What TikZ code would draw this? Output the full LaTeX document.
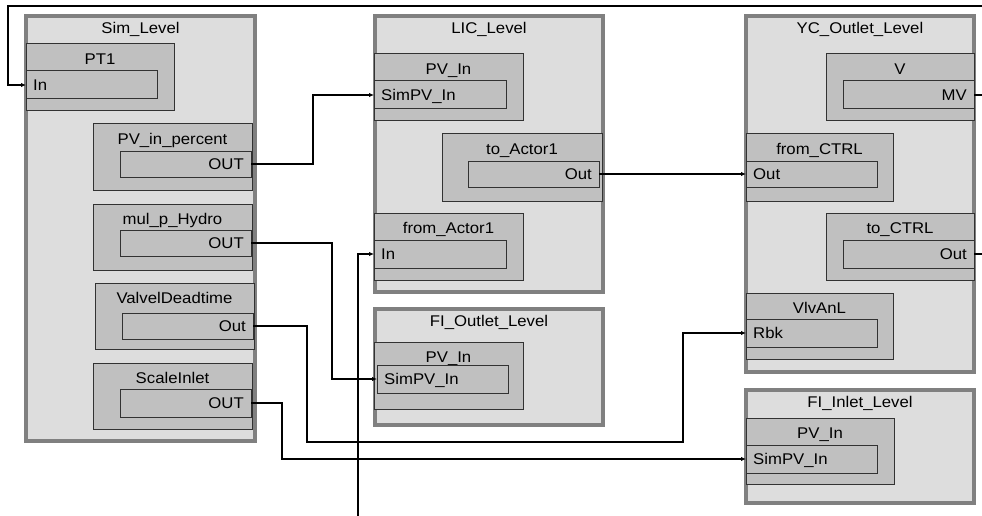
\documentclass[tikz,border=0pt]{standalone}
\usepackage{fontspec}
\setmainfont{Liberation Sans}[FakeStretch=1.08]
\usetikzlibrary{fit,calc,arrows.meta}
\definecolor{contfill}{RGB}{221,221,221}
\definecolor{contline}{RGB}{128,128,128}
\definecolor{blkfill}{RGB}{192,192,192}
\definecolor{blkline}{RGB}{50,50,50}
\tikzset{
  cont/.style={draw=contline, line width=4pt, fill=contfill, inner sep=0pt},
  blk/.style={draw=blkline, line width=1pt, fill=blkfill, inner sep=0pt},
  portbox/.style={draw=blkline, line width=1pt, fill=blkfill, inner sep=0pt, outer sep=0pt},
  ttl/.style={anchor=base, inner sep=0pt, font=\fontsize{15.5}{15.5}\selectfont},
  plab/.style={inner sep=0pt, text height=11pt, text depth=0pt, font=\fontsize{15.5}{15.5}\selectfont},
  wire/.style={line width=2pt, black},
  arr/.style={wire, -{Latex[length=5pt,width=4.5pt]}}
}
\newcommand\mkcont[6]{%
  \node[cont, fit={(#2,#3) (#4,#5)}] (#1) {};
  \node[ttl] (#1-t) at ($(#1.north)+(0,19.5)$) {#6};}
\newcommand\mkblock[6]{%
  \node[blk, fit={(#2,#3) (#4,#5)}] (#1) {};
  \node[ttl] (#1-t) at ($(#1.north)+(0,21)$) {#6};}
\newcommand\mkportL[6]{%
  \node[portbox, fit={(#2,#3) (#4,#5)}] (#1) {};
  \node[plab, anchor=west] (#1-t) at ($(#1.west)+(7,0)$) {#6};}
\newcommand\mkportR[6]{%
  \node[portbox, fit={(#2,#3) (#4,#5)}] (#1) {};
  \node[plab, anchor=east] (#1-t) at ($(#1.east)+(-7,0)$) {#6};}
\begin{document}
\begin{tikzpicture}[x=1pt,y=-1pt]
\useasboundingbox (0,0) rectangle (982,516);
\fill[white] (0,0) rectangle (982,516);
% containers
\mkcont{sim}{26}{16}{255}{441}{Sim\_Level}
\mkcont{lic}{375}{16}{603}{292}{LIC\_Level}
\mkcont{fio}{375}{309}{603}{425}{FI\_Outlet\_Level}
\mkcont{yc}{746}{16}{974}{372}{YC\_Outlet\_Level}
\mkcont{fii}{746}{390}{974}{503}{FI\_Inlet\_Level}
% Sim_Level blocks
\mkblock{pt}{26}{44}{174}{111}{PT1}
\mkportL{ptin}{26}{71}{157}{99}{In}
\mkblock{pvp}{93}{124}{252}{190}{PV\_in\_percent}
\mkportR{pvpo}{120}{151}{251}{177}{OUT}
\mkblock{mul}{93}{204}{252}{270}{mul\_p\_Hydro}
\mkportR{mulo}{120}{230}{251}{256}{OUT}
\mkblock{vdt}{95}{283}{254}{349}{ValvelDeadtime}
\mkportR{vdto}{122}{313}{253}{339}{Out}
\mkblock{scl}{93}{363}{252}{429}{ScaleInlet}
\mkportR{sclo}{120}{389}{251}{417}{OUT}
% LIC_Level blocks
\mkblock{licpv}{374}{54}{523}{121}{PV\_In}
\mkportL{licpvi}{374}{81}{506}{109}{SimPV\_In}
\mkblock{toa}{442}{134}{602}{201}{to\_Actor1}
\mkportR{toao}{468}{161}{599}{187}{Out}
\mkblock{froma}{374}{213}{523}{280}{from\_Actor1}
\mkportL{fromai}{374}{240}{506}{268}{In}
% FI_Outlet_Level
\mkblock{fiopv}{374}{342}{523}{409}{PV\_In}
\mkportL{fiopvi}{377}{365}{508}{393}{SimPV\_In}
% YC_Outlet_Level
\mkblock{vb}{826}{54}{974}{121}{V}
\mkportR{vbo}{843}{81}{974}{109}{MV}
\mkblock{fromc}{746}{134}{893}{201}{from\_CTRL}
\mkportL{fromci}{746}{161}{877}{187}{Out}
\mkblock{toc}{826}{213}{974}{280}{to\_CTRL}
\mkportR{toco}{843}{240}{974}{268}{Out}
\mkblock{vlv}{746}{293}{893}{359}{VlvAnL}
\mkportL{vlvi}{746}{319}{877}{347}{Rbk}
% FI_Inlet_Level
\mkblock{fiipv}{746}{418}{894}{484}{PV\_In}
\mkportL{fiipvi}{746}{445}{877}{473}{SimPV\_In}
% free ends
\coordinate (topR) at (982,6);
\coordinate (botA) at (358,516);
\coordinate (edgeR) at (982,0);
% connectors
\draw[arr] (topR) -| ($(ptin.west)+(-18,0)$) -- (ptin.west);
\draw[arr] (pvpo.east) -- ++(62,0) |- (licpvi.west);
\draw[arr] (mulo.east) -- ++(81,0) |- (fiopvi.west);
\draw[arr] (vdto.east) -| (307,442) -| ($(vlvi.west)+(-63,0)$) -- (vlvi.west);
\draw[arr] (sclo.east) -- ++(31,0) |- (fiipvi.west);
\draw[arr] (botA) |- (fromai.west);
\draw[arr] (toao.east) -- (fromci.west);
\draw[wire] (vbo.east) -- (vbo.east -| edgeR);
\draw[wire] (toco.east) -- (toco.east -| edgeR);
\end{tikzpicture}
\end{document}
